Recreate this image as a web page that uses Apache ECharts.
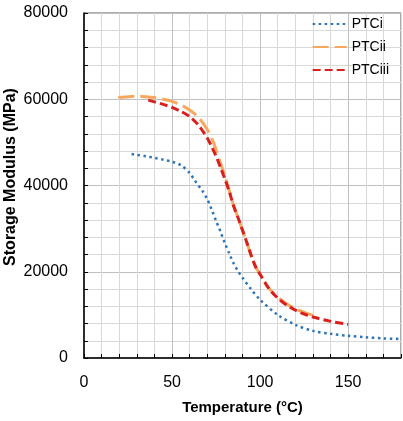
<!DOCTYPE html>
<html>
<head>
<meta charset="utf-8">
<script src="https://cdn.jsdelivr.net/npm/echarts@6/dist/echarts.min.js"></script>
<style>html,body{margin:0;padding:0;background:#fff}#c{width:403px;height:421px}</style>
</head>
<body>
<div id="c"></div>
<script>
// Data
var seriesNames = ['PTCi', 'PTCii', 'PTCiii'];
var ptciTemp = [27, 30, 35, 40, 45, 50, 55, 60, 62.5, 65, 67.5, 70, 72.5, 75, 77.5, 80, 82.5, 85, 87.5, 90, 95, 100, 110, 120, 130, 140, 150, 160, 170, 180];
var ptciMod  = [47300, 47100, 46800, 46400, 46000, 45500, 44700, 42900, 41400, 40000, 38600, 36800, 34400, 31800, 29300, 26600, 24200, 21900, 20100, 18600, 15900, 13500, 10000, 7700, 6300, 5600, 5150, 4800, 4550, 4400];
var ptciiTemp = [19.5, 25, 30, 35, 40, 45, 50, 55, 60, 65, 70, 72.5, 75, 77.5, 80, 82.5, 85, 87.5, 90, 92.5, 95, 97.5, 100, 105, 110, 115, 120, 125, 130];
var ptciiMod  = [60400, 60600, 60700, 60600, 60400, 60000, 59500, 58700, 57500, 55800, 53000, 51000, 48300, 45200, 42200, 38800, 35300, 32500, 29600, 26700, 23700, 21100, 19400, 16200, 14100, 12600, 11400, 10600, 9900];
var ptciiiTemp = [36.5, 40, 45, 50, 55, 60, 65, 70, 72.5, 75, 77.5, 80, 82.5, 85, 87.5, 90, 92.5, 95, 97.5, 100, 105, 110, 115, 120, 125, 130, 140, 150];
var ptciiiMod  = [59800, 59400, 58800, 58100, 57200, 56000, 54000, 51000, 49000, 46800, 44200, 41500, 38600, 35200, 32500, 29600, 26700, 23700, 21100, 19400, 16100, 13900, 12300, 11100, 10200, 9500, 8500, 7800];
var xTicks = [0, 50, 100, 150];
var yTicks = [0, 20000, 40000, 60000, 80000];

function pairs(xs, ys) { return xs.map(function (x, i) { return [x, ys[i]]; }); }

var FONT = 'Liberation Sans';
var MAJ = '#bfbfbf', MIN = '#d9d9d9';
var chart = echarts.init(document.getElementById('c'), null, {renderer: 'canvas'});
chart.setOption({
  animation: false,
  backgroundColor: '#fff',
  grid: {left: 84, right: 2, top: 13, bottom: 63, show: true, borderColor: '#595959', borderWidth: 1,
         containLabel: false, outerBoundsMode: 'none'},
  legend: {
    orient: 'vertical', right: 9, top: 12, itemWidth: 34, itemHeight: 14, itemGap: 9,
    itemStyle: {opacity: 0},
    textStyle: {fontFamily: FONT, fontSize: 14, color: '#000'},
    data: seriesNames
  },
  xAxis: {
    type: 'value', min: 0, max: 180, interval: 10,
    name: 'Temperature (°C)', nameLocation: 'middle', nameGap: 42, nameMoveOverlap: false,
    nameTextStyle: {fontFamily: FONT, fontSize: 15, fontWeight: 'bold', color: '#000'},
    axisLine: {show: true, onZero: false, lineStyle: {color: '#000', width: 1.5}},
    axisTick: {show: true, inside: true, length: 4, lineStyle: {color: '#000'}},
    axisLabel: {interval: 0, margin: 17, fontFamily: FONT, fontSize: 16, color: '#000',
      formatter: function (v) { return xTicks.indexOf(v) >= 0 ? String(v) : ''; }},
    splitLine: {show: true, lineStyle: {color: [MAJ, MIN, MIN, MIN, MIN], width: 1}}
  },
  yAxis: {
    type: 'value', min: 0, max: 80000, interval: 4000,
    name: 'Storage Modulus (MPa)', nameLocation: 'middle', nameGap: 65, nameMoveOverlap: false,
    nameTextStyle: {fontFamily: FONT, fontSize: 16, fontWeight: 'bold', color: '#000', padding: [0, 0, 0, 17]},
    axisLine: {show: true, onZero: false, lineStyle: {color: '#000', width: 1.5}},
    axisTick: {show: true, inside: true, length: 4, lineStyle: {color: '#000'}},
    axisLabel: {interval: 0, margin: 16, fontFamily: FONT, fontSize: 16, color: '#000',
      formatter: function (v) { return yTicks.indexOf(v) >= 0 ? String(v) : ''; }},
    splitLine: {show: true, lineStyle: {color: [MAJ, MIN, MIN, MIN, MIN], width: 1}}
  },
  series: [
    {name: seriesNames[0], type: 'line', smooth: 0.3, symbol: 'none', showSymbol: false,
     data: pairs(ptciTemp, ptciMod), itemStyle: {color: '#2E75B6'},
     lineStyle: {color: '#2E75B6', width: 2.5, type: [2.5, 3.5], cap: 'butt'}},
    {name: seriesNames[1], type: 'line', smooth: 0.3, symbol: 'none', showSymbol: false,
     data: pairs(ptciiTemp, ptciiMod), itemStyle: {color: '#F8A85E'},
     lineStyle: {color: '#F8A85E', width: 3, type: [16, 6], cap: 'butt'}},
    {name: seriesNames[2], type: 'line', smooth: 0.3, symbol: 'none', showSymbol: false,
     data: pairs(ptciiiTemp, ptciiiMod), itemStyle: {color: '#D9201E'},
     lineStyle: {color: '#D9201E', width: 3, type: [8, 4], cap: 'butt'}}
  ]
});
</script>
</body>
</html>
